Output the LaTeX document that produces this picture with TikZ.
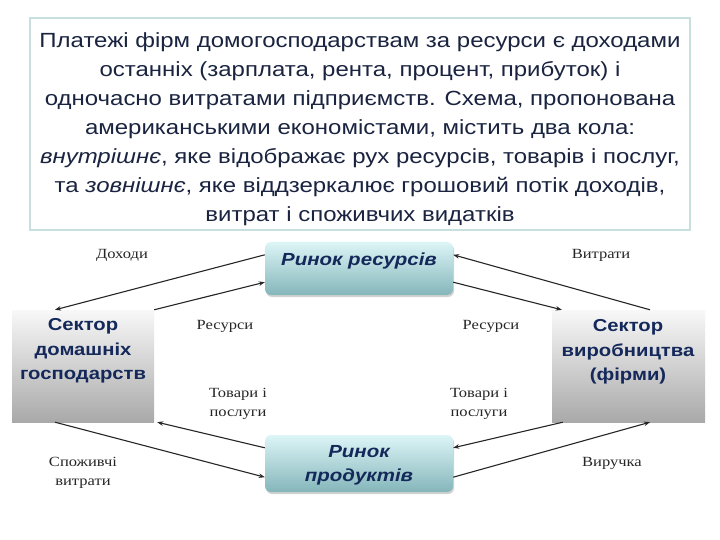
\documentclass[tikz,border=0pt]{standalone}
\usepackage{fontspec}
\setmainfont{Liberation Sans}[FakeStretch=1.17]
\newfontfamily\serifl{Liberation Serif}[FakeStretch=1.18]
\usetikzlibrary{arrows.meta,shadows,calc}
\definecolor{navy}{HTML}{14285A}
\definecolor{toptext}{HTML}{1A2440}
\definecolor{boxedge}{HTML}{C8DFE0}
\definecolor{mtop}{HTML}{DDF5F7}
\definecolor{mbot}{HTML}{84B6BA}
\definecolor{stop}{HTML}{F8F8F8}
\definecolor{sbot}{HTML}{A9A9A9}
\tikzset{
  mkt/.style={rounded corners=6pt, top color=mtop, bottom color=mbot, draw=none,
    minimum width=188pt, inner sep=0pt,
    drop shadow={shadow xshift=1pt, shadow yshift=-2pt, opacity=0.35}},
  sector/.style={top color=stop, bottom color=sbot, draw=none, inner sep=0pt},
  mtext/.style={font=\fontsize{17.5}{24}\selectfont\bfseries\itshape, text=navy, align=center, inner sep=0pt},
  stext/.style={font=\fontsize{17.3}{24.5}\selectfont\bfseries, text=navy, align=center, inner sep=0pt},
  lbl/.style={font=\serifl\fontsize{14}{19}\selectfont, text=black!85, align=center, inner sep=0pt},
  flow/.style={-{Stealth[length=6pt,width=4.5pt]}, line width=1.1pt, black!85},
}
\begin{document}
\begin{tikzpicture}[x=1pt,y=1pt]
\useasboundingbox (0,0) rectangle (720,539);
\fill[white] (0,0) rectangle (720,539);
% top text box
\node[draw=boxedge, line width=1.6pt, fill=white, minimum width=660pt, minimum height=212pt, inner sep=0pt] (top) at (360,415) {};
\node[font=\fontsize{20.5}{29}\selectfont, text=toptext, align=center, inner sep=0pt] (toptxt) at (360,409.5) {%
Платежі фірм домогосподарствам за ресурси є доходами\\
останніх (зарплата, рента, процент, прибуток) і\\
одночасно витратами підприємств. Схема, пропонована\\
американськими економістами, містить два кола:\\
\textit{внутрішнє}, яке відображає рух ресурсів, товарів і послуг,\\
та \textit{зовнішнє}, яке віддзеркалює грошовий потік доходів,\\
витрат і споживчих видатків};
% sectors
\node[sector, minimum width=142pt, minimum height=112pt] (hh) at (83,173) {};
\node[stext] (hht) at (83,188) {Сектор\\домашніх\\господарств};
\node[sector, minimum width=153pt, minimum height=112pt] (fm) at (628.5,173) {};
\node[stext] (fmt) at (628,187) {Сектор\\виробництва\\(фірми)};
% markets
\node[mkt, minimum height=53pt] (mr) at (359,270.5) {};
\node[mtext] (mrt) at (359,278) {Ринок ресурсів};
\node[mkt, minimum height=57pt] (mp) at (359,75.5) {};
\node[mtext] (mpt) at (359,73.5) {Ринок\\продуктів};
% flows
\draw[flow] ([yshift=-13pt]mr.north west) -- ([xshift=-28pt]hh.north);
\draw[flow] (hh.north east) -- ([yshift=13pt]mr.south west);
\draw[flow] ([yshift=-13pt]mp.north west) -- ([xshift=3pt]hh.south east);
\draw[flow] ([xshift=-28pt]hh.south) -- ([yshift=15pt]mp.south west);
\draw[flow] ([xshift=21.5pt]fm.north) -- ([yshift=-13pt]mr.north east);
\draw[flow] ([yshift=13pt]mr.south east) -- ([xshift=10pt]fm.north west);
\draw[flow] ([xshift=11pt]fm.south west) -- ([yshift=-13pt]mp.north east);
\draw[flow] ([yshift=15pt]mp.south east) -- ([xshift=21.5pt]fm.south);
% labels
\node[lbl] (l1) at (122,284) {Доходи};
\node[lbl] (l2) at (225,213) {Ресурси};
\node[lbl] (l3) at (238,135.5) {Товари і\\послуги};
\node[lbl] (l4) at (83,66.5) {Споживчі\\витрати};
\node[lbl] (l5) at (601,284) {Витрати};
\node[lbl] (l6) at (491,213) {Ресурси};
\node[lbl] (l7) at (479,135.5) {Товари і\\послуги};
\node[lbl] (l8) at (612,76) {Виручка};
\end{tikzpicture}
\end{document}
